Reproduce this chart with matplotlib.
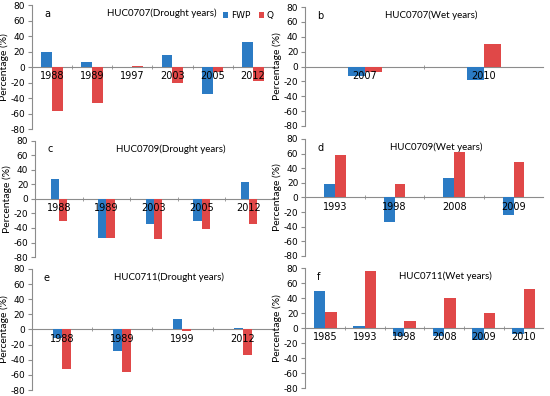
import matplotlib.pyplot as plt
import numpy as np

# panel data (percentage change of FWP and Q)
years_a = ["1988", "1989", "1997", "2003", "2005", "2012"]
fwp_a = [20, 7, 0, 16, -35, 33]
q_a = [-56, -46, 2, -21, -6, -18]

years_b = ["2007", "2010"]
fwp_b = [-13, -18]
q_b = [-7, 31]

years_c = ["1988", "1989", "2003", "2005", "2012"]
fwp_c = [27, -54, -34, -31, 23]
q_c = [-30, -54, -55, -42, -35]

years_d = ["1993", "1998", "2008", "2009"]
fwp_d = [18, -34, 27, -24]
q_d = [58, 18, 62, 49]

years_e = ["1988", "1989", "1999", "2012"]
fwp_e = [-11, -28, 14, 2]
q_e = [-52, -56, -2, -34]

years_f = ["1985", "1993", "1998", "2008", "2009", "2010"]
fwp_f = [49, 3, -11, -10, -16, -8]
q_f = [22, 76, 9, 40, 20, 52]

titles = ["HUC0707(Drought years)", "HUC0707(Wet years)",
          "HUC0709(Drought years)", "HUC0709(Wet years)",
          "HUC0711(Drought years)", "HUC0711(Wet years)"]
letters = ["a", "b", "c", "d", "e", "f"]

panels = [(years_a, fwp_a, q_a), (years_b, fwp_b, q_b), (years_c, fwp_c, q_c),
          (years_d, fwp_d, q_d), (years_e, fwp_e, q_e), (years_f, fwp_f, q_f)]
widths = [0.27, 0.145, 0.17, 0.18, 0.15, 0.29]
title_x = [0.54, 0.53, 0.57, 0.55, 0.57, 0.59]
# axes rectangles [left, bottom, width, height] in figure fraction
rects = [[0.058, 0.674, 0.438, 0.313], [0.555, 0.682, 0.433, 0.300],
         [0.064, 0.351, 0.432, 0.293], [0.555, 0.354, 0.433, 0.295],
         [0.058, 0.015, 0.438, 0.306], [0.555, 0.020, 0.433, 0.303]]

blue = "#2B7BC4"
red = "#E04848"
grey = "#8c8c8c"

plt.rcParams["font.family"] = "DejaVu Sans"
plt.rcParams["axes.unicode_minus"] = False
fig = plt.figure(figsize=(5.5, 3.96), dpi=100)

for i, (yrs, fwp, q) in enumerate(panels):
    ax = fig.add_axes(rects[i])
    x = np.arange(len(yrs))
    w = widths[i]
    ax.bar(x - w / 2, fwp, w, color=blue, label="FWP")
    ax.bar(x + w / 2, q, w, color=red, label="Q")
    ax.set_xlim(-0.5, len(yrs) - 0.5)
    ax.set_ylim(-80, 80)
    ax.set_yticks(range(-80, 81, 20))
    ax.spines["top"].set_visible(False)
    ax.spines["right"].set_visible(False)
    ax.spines["bottom"].set_position(("data", 0))
    ax.spines["bottom"].set_color(grey)
    ax.spines["left"].set_color(grey)
    ax.spines["bottom"].set_zorder(0)
    ax.set_xticks(x)
    ax.set_xticklabels(yrs)
    ax.set_xticks(np.arange(0.5, len(yrs) - 0.5), minor=True)
    ax.tick_params(axis="x", which="major", length=0, pad=3, labelsize=7)
    ax.tick_params(axis="x", which="minor", length=3, direction="inout", color=grey)
    ax.tick_params(axis="y", length=3, color=grey, labelsize=6.5, pad=2)
    ax.set_ylabel("Percentage (%)", fontsize=7.5, labelpad=1, family="Lato")
    ax.text(title_x[i], 0.97, titles[i], transform=ax.transAxes,
            ha="center", va="top", fontsize=7, family="Lato")
    ax.text(0.05, 0.97, letters[i], transform=ax.transAxes, ha="left", va="top", fontsize=7)
    ax.patch.set_alpha(0)
    if i == 0:
        ax.legend(loc="upper right", bbox_to_anchor=(1.03, 1.0), ncol=2, frameon=False,
                  fontsize=6.5, handlelength=0.6, handleheight=0.6, handletextpad=0.3,
                  columnspacing=0.9, borderaxespad=0.3)

fig.savefig("out.png", dpi=100)
